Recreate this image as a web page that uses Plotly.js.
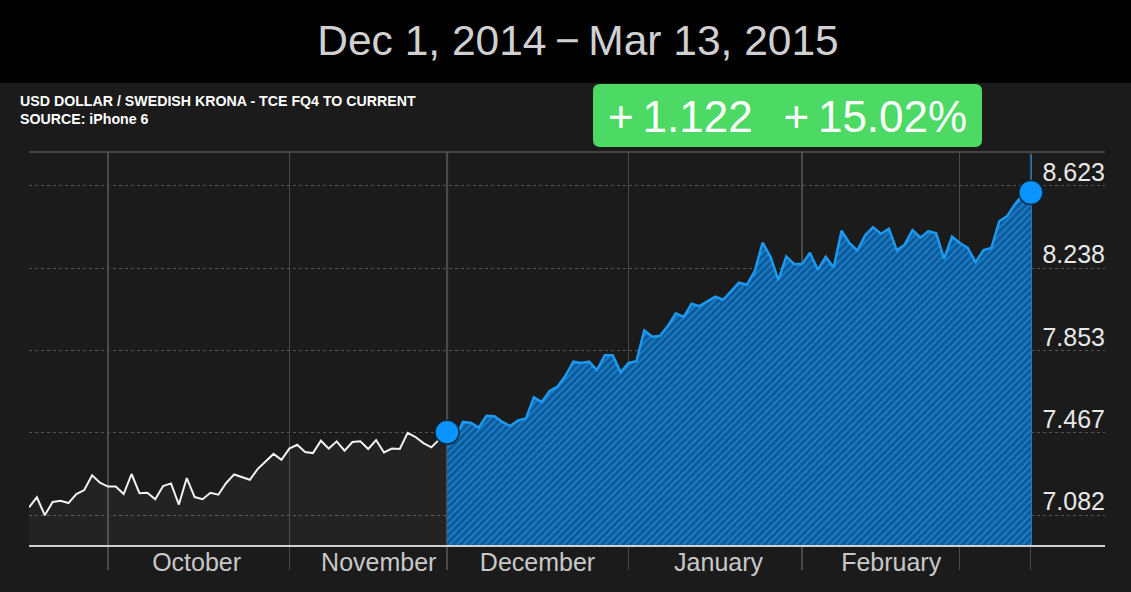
<!DOCTYPE html>
<html><head><meta charset="utf-8">
<script src="https://cdn.plot.ly/plotly-3.0.1.min.js"></script>
<style>html,body{margin:0;padding:0;background:#1b1b1b;overflow:hidden}#chart{width:1131px;height:592px}</style>
</head><body><div id="chart"></div>
<script>
// ---- data ----
const startDate = '2014-09-17';
const endDate = '2015-03-13';
const splitDate = '2014-12-01';
// one value per trading weekday, Sep 17 2014 .. Dec 1 2014
const whiteValues = [7.118, 7.165, 7.081, 7.143, 7.149, 7.138, 7.180, 7.199, 7.268, 7.233,
  7.215, 7.215, 7.180, 7.274, 7.184, 7.186, 7.156, 7.218, 7.230, 7.131,
  7.255, 7.166, 7.156, 7.186, 7.177, 7.232, 7.272, 7.260, 7.247, 7.298,
  7.334, 7.368, 7.340, 7.393, 7.411, 7.377, 7.372, 7.430, 7.393, 7.427,
  7.383, 7.424, 7.427, 7.391, 7.433, 7.375, 7.393, 7.391, 7.467, 7.447,
  7.419, 7.399, 7.435, 7.470];
// Dec 1 2014 .. Mar 13 2015
const blueValues = [7.470, 7.433, 7.518, 7.514, 7.491, 7.547, 7.545, 7.518, 7.499, 7.525,
  7.534, 7.633, 7.611, 7.663, 7.683, 7.734, 7.800, 7.794, 7.800, 7.761,
  7.830, 7.830, 7.750, 7.794, 7.802, 7.946, 7.917, 7.921, 7.968, 8.026,
  8.010, 8.071, 8.060, 8.082, 8.105, 8.090, 8.130, 8.170, 8.160, 8.224,
  8.358, 8.291, 8.182, 8.293, 8.257, 8.257, 8.310, 8.230, 8.291, 8.240,
  8.413, 8.356, 8.320, 8.392, 8.430, 8.398, 8.423, 8.322, 8.348, 8.416,
  8.381, 8.411, 8.401, 8.282, 8.386, 8.356, 8.333, 8.266, 8.323, 8.333,
  8.458, 8.482, 8.539, 8.582, 8.592];
const yTickVals = [7.082, 7.467, 7.853, 8.238, 8.623];
const yTickText = ['7.082', '7.467', '7.853', '8.238', '8.623'];
const gridDates = ['2014-10-01', '2014-11-03', '2014-12-01', '2015-01-01', '2015-02-02', '2015-03-02', '2015-03-13'];
const monthNames = ['October', 'November', 'December', 'January', 'February'];
const monthLabelDates = ['2014-10-16 06:00', '2014-11-18 08:00', '2014-12-16 11:00', '2015-01-16 10:00', '2015-02-17 07:00'];
const titleText = 'Dec 1, 2014\u2009\u2212\u2009Mar 13, 2015';
const subtitle1 = 'USD DOLLAR / SWEDISH KRONA - TCE FQ4 TO CURRENT';
const subtitle2 = 'SOURCE: iPhone 6';
const badgeText = '+\u20091.122\u2002\u2009+\u200915.02%';

// weekday dates
function weekdays(a, b) {
  const out = [];
  let d = new Date(a + 'T00:00:00Z');
  const e = new Date(b + 'T00:00:00Z');
  while (d <= e) {
    const w = d.getUTCDay();
    if (w !== 0 && w !== 6) out.push(d.toISOString().slice(0, 10));
    d = new Date(d.getTime() + 86400000);
  }
  return out;
}
const allDates = weekdays(startDate, endDate);
const whiteDates = allDates.filter(d => d <= splitDate);
const blueDates = allDates.filter(d => d >= splitDate);

// ---- layout geometry (pixels) ----
const L = 29, R = 1105, T = 152, B = 545, W = 1131, H = 592;
const px = x => (x - L) / (R - L);
const py = y => (B - y) / (B - T);
const xRange = [startDate, '2015-03-26 09:36'];
const yRange = [6.9415, 8.782];
const FONT = 'Liberation Sans, Arial, sans-serif';

const bx0 = px(593), bx1 = px(982), by0 = py(147), by1 = py(84);
const rx = 7 / (R - L), ry = 7 / (B - T);
const badgePath = `M ${bx0 + rx},${by1} L ${bx1 - rx},${by1} Q ${bx1},${by1} ${bx1},${by1 - ry} L ${bx1},${by0 + ry} Q ${bx1},${by0} ${bx1 - rx},${by0} L ${bx0 + rx},${by0} Q ${bx0},${by0} ${bx0},${by0 + ry} L ${bx0},${by1 - ry} Q ${bx0},${by1} ${bx0 + rx},${by1} Z`;

const traces = [
  {
    x: whiteDates, y: whiteValues, type: 'scatter', mode: 'lines',
    line: {color: '#f2f2f2', width: 2},
    fill: 'tozeroy', fillcolor: 'rgba(255,255,255,0.035)',
    hoverinfo: 'skip'
  },
  {
    x: blueDates, y: blueValues, type: 'scatter', mode: 'lines',
    line: {color: '#1c9af2', width: 2.5},
    fill: 'tozeroy',
    fillpattern: {shape: '/', bgcolor: '#0c5a97', fgcolor: '#1d7fcd', size: 5, solidity: 0.35},
    hoverinfo: 'skip'
  },
  {
    x: [blueDates[0], blueDates[blueDates.length - 1]],
    y: [blueValues[0], blueValues[blueValues.length - 1]],
    type: 'scatter', mode: 'markers',
    marker: {size: 24, color: '#0a94ff', line: {color: '#10263a', width: 1.5}},
    hoverinfo: 'skip', cliponaxis: false
  },
  {
    x: [blueDates[0]], y: [blueValues[0]], xaxis: 'x2', type: 'scatter', mode: 'markers',
    marker: {opacity: 0}, hoverinfo: 'skip'
  }
];

const layout = {
  width: W, height: H,
  margin: {l: L, r: W - R, t: T, b: H - B, pad: 0},
  paper_bgcolor: '#1b1b1b', plot_bgcolor: '#1b1b1b',
  showlegend: false, hovermode: false,
  title: {
    text: titleText, xref: 'container', yref: 'container',
    x: 578 / W, xanchor: 'center', y: 1 - 40 / H, yanchor: 'middle',
    font: {family: FONT, size: 42.5, color: '#d0d0d0'}
  },
  xaxis: {
    type: 'date', range: xRange, rangebreaks: [{bounds: ['sat', 'mon']}],
    tickmode: 'array', tickvals: gridDates, showticklabels: false,
    showgrid: true, gridcolor: '#4a4a4a', gridwidth: 1.3,
    ticks: 'outside', ticklen: 23, tickcolor: '#4a4a4a', tickwidth: 1.3,
    showline: true, linecolor: '#d0d0d0', linewidth: 1.5, zeroline: false, fixedrange: true
  },
  xaxis2: {
    type: 'date', range: xRange, rangebreaks: [{bounds: ['sat', 'mon']}],
    overlaying: 'x', anchor: 'y', side: 'bottom',
    tickmode: 'array', tickvals: monthLabelDates, ticktext: monthNames,
    showgrid: false, ticks: '', showline: false, zeroline: false,
    tickfont: {family: FONT, size: 25, color: '#c8c8c8'}, fixedrange: true
  },
  yaxis: {
    range: yRange, side: 'right', tickmode: 'array', tickvals: yTickVals, ticktext: yTickText,
    ticklabelposition: 'inside top', ticklabelstandoff: -3, ticklabelshift: 4,
    showgrid: true, griddash: 'dot', gridcolor: '#555555', gridwidth: 1,
    zeroline: false, showline: false, ticks: '',
    tickfont: {family: FONT, size: 25, color: '#e8e8e8'}, fixedrange: true
  },
  shapes: [
    {type: 'rect', xref: 'paper', yref: 'paper', x0: px(-5), x1: px(W + 5), y0: py(83), y1: py(-5),
     fillcolor: '#000000', line: {width: 0}},
    {type: 'line', xref: 'paper', yref: 'paper', x0: 0, x1: 1, y0: 1, y1: 1,
     line: {color: '#555555', width: 1.5}},
    {type: 'path', xref: 'paper', yref: 'paper', path: badgePath,
     fillcolor: '#4cd964', line: {width: 0}},
    {type: 'line', xref: 'x', yref: 'paper', x0: blueDates[0], x1: blueDates[0], y0: 0, y1: 0.995,
     line: {color: '#1d8fe6', width: 2}, layer: 'between'},
    {type: 'line', xref: 'x', yref: 'paper', x0: blueDates[blueDates.length - 1], x1: blueDates[blueDates.length - 1], y0: 0, y1: 0.995,
     line: {color: '#1d8fe6', width: 2}, layer: 'between'}
  ],
  annotations: [
    {text: '<b>' + subtitle1 + '</b>', xref: 'paper', yref: 'paper', x: px(18), y: py(101),
     xanchor: 'left', yanchor: 'middle', showarrow: false, font: {family: FONT, size: 14.2, color: '#ffffff'}},
    {text: '<b>' + subtitle2 + '</b>', xref: 'paper', yref: 'paper', x: px(18), y: py(119),
     xanchor: 'left', yanchor: 'middle', showarrow: false, font: {family: FONT, size: 14.2, color: '#ffffff'}},
    {text: badgeText, xref: 'paper', yref: 'paper', x: px(787), y: py(116),
     xanchor: 'center', yanchor: 'middle', showarrow: false, font: {family: FONT, size: 44, color: '#ffffff'}}
  ]
};

Plotly.newPlot('chart', traces, layout, {displayModeBar: false, staticPlot: true});
</script>
</body></html>
